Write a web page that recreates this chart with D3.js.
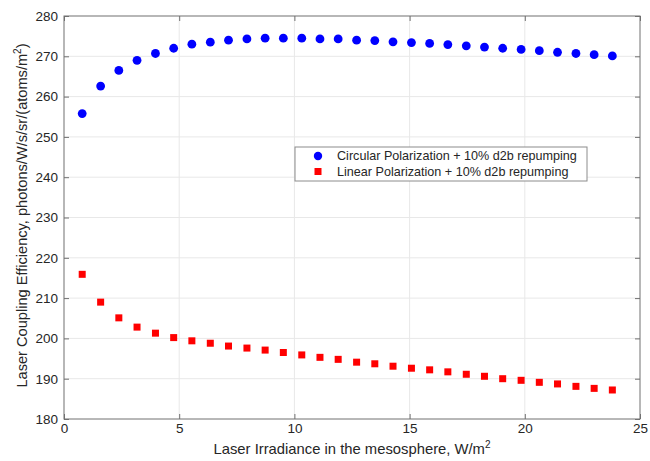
<!DOCTYPE html>
<html>
<head>
<meta charset="utf-8">
<script src="https://cdn.jsdelivr.net/npm/d3@7"></script>
<style>
  body { margin: 0; background: #fff; }
  text { font-family: "Liberation Sans", Arial, sans-serif; fill: #262626; }
</style>
</head>
<body>
<div id="chart"></div>
<script>
// irradiance values (W/m^2)
var irradiance = [0.79, 1.59, 2.38, 3.17, 3.97, 4.76, 5.55, 6.35, 7.14, 7.94,
                  8.73, 9.52, 10.32, 11.11, 11.90, 12.70, 13.49, 14.28, 15.08, 15.87,
                  16.66, 17.46, 18.25, 19.04, 19.84, 20.63, 21.42, 22.22, 23.01, 23.80];

var circular = [255.8, 262.6, 266.5, 269.0, 270.7, 272.0, 273.0, 273.5, 274.0, 274.3,
                274.5, 274.5, 274.5, 274.3, 274.3, 274.0, 273.9, 273.6, 273.4, 273.2,
                272.9, 272.6, 272.3, 272.0, 271.7, 271.4, 271.0, 270.7, 270.4, 270.1];

var linear = [215.9, 209.0, 205.1, 202.8, 201.3, 200.2, 199.4, 198.8, 198.1, 197.6,
              197.1, 196.5, 195.9, 195.3, 194.8, 194.1, 193.7, 193.1, 192.6, 192.2,
              191.7, 191.1, 190.6, 190.0, 189.6, 189.1, 188.7, 188.1, 187.6, 187.2];

var xTicks = [0, 5, 10, 15, 20, 25];
var yTicks = [180, 190, 200, 210, 220, 230, 240, 250, 260, 270, 280];
var legendLabels = ["Circular Polarization + 10% d2b repumping",
                    "Linear Polarization + 10% d2b repumping"];

// set the dimensions and margins of the graph
var margin = {top: 16, right: 10, bottom: 42, left: 64},
    width = 640 - margin.left,
    height = 419 - margin.top;

var svg = d3.select("#chart")
  .append("svg")
    .attr("width", 650)
    .attr("height", 461)
  .append("g")
    .attr("transform", "translate(" + margin.left + "," + margin.top + ")");

var x = d3.scaleLinear().domain([0, 25]).range([0, width]);
var y = d3.scaleLinear().domain([180, 280]).range([height, 0]);

// grid
svg.append("g")
  .selectAll("line")
  .data(xTicks.slice(1, -1))
  .enter().append("line")
    .attr("x1", d => x(d)).attr("x2", d => x(d))
    .attr("y1", 0).attr("y2", height)
    .attr("stroke", "#e8e8e8");
svg.append("g")
  .selectAll("line")
  .data(yTicks.slice(1, -1))
  .enter().append("line")
    .attr("x1", 0).attr("x2", width)
    .attr("y1", d => y(d)).attr("y2", d => y(d))
    .attr("stroke", "#e8e8e8");

// axes, ticks inward on all four sides
var axisColor = "#707070";
function styleAxis(g) {
  g.select(".domain").remove();
  g.selectAll(".tick line").attr("stroke", axisColor);
  g.selectAll(".tick text")
    .style("font-size", "13.5px")
    .attr("fill", "#262626");
}
svg.append("g")
  .attr("transform", "translate(0," + height + ")")
  .call(d3.axisBottom(x).tickValues(xTicks).tickSizeInner(-5).tickPadding(4))
  .call(styleAxis);
svg.append("g")
  .call(d3.axisTop(x).tickValues(xTicks).tickSizeInner(-5).tickFormat(""))
  .call(styleAxis);
svg.append("g")
  .call(d3.axisLeft(y).tickValues(yTicks).tickSizeInner(-5).tickPadding(6))
  .call(styleAxis);
svg.append("g")
  .attr("transform", "translate(" + width + ",0)")
  .call(d3.axisRight(y).tickValues(yTicks).tickSizeInner(-5).tickFormat(""))
  .call(styleAxis);

svg.append("rect")
  .attr("width", width).attr("height", height)
  .attr("fill", "none").attr("stroke", axisColor).attr("stroke-width", 1);

// circular series
svg.append("g")
  .selectAll("circle")
  .data(circular)
  .enter().append("circle")
    .attr("cx", (d, i) => x(irradiance[i]))
    .attr("cy", d => y(d))
    .attr("r", 4.4)
    .attr("fill", "#0000ff");

// linear series
var sq = 7;
svg.append("g")
  .selectAll("rect")
  .data(linear)
  .enter().append("rect")
    .attr("x", (d, i) => x(irradiance[i]) - sq / 2)
    .attr("y", d => y(d) - sq / 2)
    .attr("width", sq).attr("height", sq)
    .attr("fill", "#ff0000");

// axis labels
var xl = svg.append("text")
  .attr("x", width / 2)
  .attr("y", height + 35)
  .attr("text-anchor", "middle")
  .style("font-size", "14.8px");
xl.append("tspan").text("Laser Irradiance in the mesosphere, W/m");
xl.append("tspan").attr("dy", -6).style("font-size", "10px").text("2");

var yl = svg.append("text")
  .attr("transform", "translate(" + (-37) + "," + (height / 2 - 2) + ") rotate(-90)")
  .attr("text-anchor", "middle")
  .style("font-size", "14.6px");
yl.append("tspan").text("Laser Coupling Efficiency, photons/W/s/sr/(atoms/m");
yl.append("tspan").attr("dy", -6).style("font-size", "10px").text("2");
yl.append("tspan").attr("dy", 6).text(")");

// legend
var legend = svg.append("g")
  .attr("transform", "translate(" + (295 - margin.left) + "," + (147 - margin.top) + ")");
legend.append("rect")
  .attr("width", 292).attr("height", 34)
  .attr("fill", "#fff").attr("stroke", "#8c8c8c");
var items = legend.selectAll("g.item")
  .data(legendLabels)
  .enter().append("g")
    .attr("transform", (d, i) => "translate(0," + (9 + i * 15.5) + ")");
items.append("text")
  .attr("x", 42)
  .attr("dy", "0.35em")
  .style("font-size", "12.6px")
  .text(d => d);
legend.append("circle")
  .attr("cx", 23).attr("cy", 9).attr("r", 4.2).attr("fill", "#0000ff");
legend.append("rect")
  .attr("x", 23 - 3.5).attr("y", 24.5 - 3.5).attr("width", 7).attr("height", 7)
  .attr("fill", "#ff0000");
</script>
</body>
</html>
